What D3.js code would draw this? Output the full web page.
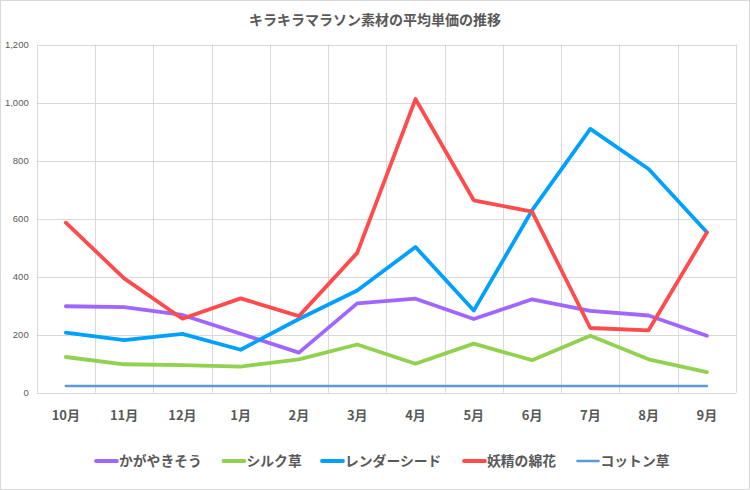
<!DOCTYPE html>
<html><head><meta charset="utf-8">
<script src="https://cdn.jsdelivr.net/npm/d3@7"></script>
<style>
body{margin:0;background:#fff;}
svg{display:block;font-family:"Noto Sans CJK JP","Noto Sans",sans-serif;}
</style></head><body>
<svg id="c" width="750" height="490"></svg>
<script>
const months = ["10月","11月","12月","1月","2月","3月","4月","5月","6月","7月","8月","9月"];
const seriesNames = ["かがやきそう","シルク草","レンダーシード","妖精の綿花","コットン草"];
const kagayakisou = [298,295,268,203,138,308,324,254,322,282,266,196];
const silkGrass   = [123,98,95,90,115,166,100,169,112,196,115,71];
const renderSeed  = [207,181,203,148,254,352,502,283,628,909,771,553];
const fairyCotton = [586,394,255,325,264,482,1012,663,624,223,215,552];
const cottonGrass = [23,23,23,23,23,23,23,23,23,23,23,23];
const yTicks = [0,200,400,600,800,1000,1200];
const colors = ["#a066ff","#92d050","#00a0ff","#ff4b4b","#5b9bd5"];
const widths = [3.8,3.8,3.8,3.8,2.6];
const allSeries = [kagayakisou,silkGrass,renderSeed,fairyCotton,cottonGrass];

const svg = d3.select("#c");
svg.append("rect").attr("x",0.5).attr("y",0.5).attr("width",749).attr("height",489)
  .attr("fill","#fff").attr("stroke","#d9d9d9");

const L=36.7, R=736, T=44.5, B=392.7;
const x = d3.scaleBand().domain(months).range([L,R]);
const y = d3.scaleLinear().domain([0,1200]).range([B,T]);

// grid
const g = svg.append("g");
g.selectAll("line.h").data(yTicks).join("line")
  .attr("x1",L).attr("x2",R).attr("y1",d=>Math.round(y(d))+0.5).attr("y2",d=>Math.round(y(d))+0.5)
  .attr("stroke","#d9d9d9").attr("stroke-width",1);
const vx = months.map(m=>x(m)).concat([R]);
g.selectAll("line.v").data(vx).join("line")
  .attr("y1",T).attr("y2",B).attr("x1",d=>Math.round(d)+0.5).attr("x2",d=>Math.round(d)+0.5)
  .attr("stroke","#d9d9d9").attr("stroke-width",1);

// y axis labels
const yAxis = d3.axisLeft(y).tickValues(yTicks).tickFormat(d3.format(",")).tickSize(0).tickPadding(8);
const ya = svg.append("g").attr("transform",`translate(${L},0)`).call(yAxis);
ya.select(".domain").remove();
ya.selectAll("text").attr("fill","#595959").attr("font-size","9.5px").attr("font-family","'Liberation Sans',sans-serif");

// x axis labels
const xAxis = d3.axisBottom(x).tickSize(0).tickPadding(18);
const xa = svg.append("g").attr("transform",`translate(0,${B})`).call(xAxis);
xa.select(".domain").remove();
xa.selectAll("text").attr("fill","#595959").attr("font-size","13px").attr("font-weight","bold")
  .attr("font-family","'Noto Sans CJK JP',sans-serif");

// lines
const line = d3.line().x((d,i)=>x(months[i])+x.bandwidth()/2).y(d=>y(d)).curve(d3.curveLinear);
const order = [4,1,0,2,3];
order.forEach(k=>{
  svg.append("path").datum(allSeries[k]).attr("d",line).attr("fill","none")
    .attr("stroke",colors[k]).attr("stroke-width",widths[k]).attr("stroke-linejoin","round").attr("stroke-linecap","round");
});

// title
svg.append("text").attr("x",375).attr("y",25).attr("text-anchor","middle")
  .attr("font-size","14px").attr("font-weight","bold").attr("fill","#595959")
  .text("キラキラマラソン素材の平均単価の推移");

// legend
const legX = [96,223.5,322,464,577.5];
const lg = svg.append("g");
seriesNames.forEach((n,i)=>{
  lg.append("line").attr("x1",legX[i]).attr("x2",legX[i]+21).attr("y1",461).attr("y2",461)
    .attr("stroke",colors[i]).attr("stroke-width",widths[i]).attr("stroke-linecap","round");
  lg.append("text").attr("x",legX[i]+23).attr("y",466).attr("font-size","13.8px").attr("font-weight","bold")
    .attr("fill","#595959").text(n);
});
</script></body></html>
